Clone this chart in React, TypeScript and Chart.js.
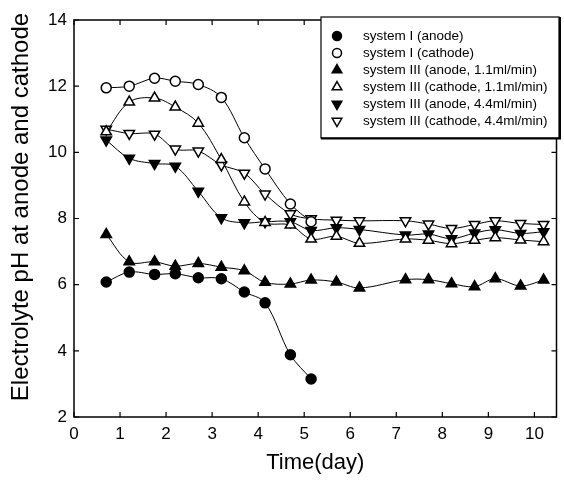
import React, { useEffect, useRef } from "react";
import { Chart, registerables } from "chart.js";

Chart.register(...registerables);

const days = [0.7, 1.2, 1.75, 2.2, 2.7, 3.2, 3.7, 4.15, 4.7, 5.15, 5.7, 6.2, 7.2, 7.7, 8.2, 8.7, 9.15, 9.7, 10.2];

const sysIAnode = [6.08, 6.38, 6.31, 6.33, 6.21, 6.18, 5.78, 5.45, 3.88, 3.15];
const sysICathode = [11.95, 12.0, 12.24, 12.15, 12.05, 11.66, 10.44, 9.5, 8.44, 7.9];
const sysIIIAnode11 = [7.52, 6.69, 6.69, 6.56, 6.64, 6.53, 6.42, 6.07, 6.02, 6.14, 6.08, 5.9, 6.15, 6.15, 6.03, 5.94, 6.18, 5.96, 6.14];
const sysIIICathode11 = [10.62, 11.52, 11.64, 11.37, 10.88, 9.78, 8.5, 7.88, 7.8, 7.38, 7.46, 7.25, 7.38, 7.34, 7.24, 7.34, 7.42, 7.35, 7.3];
const sysIIIAnode44 = [10.37, 9.82, 9.66, 9.58, 8.82, 8.02, 7.87, 7.9, 7.9, 7.64, 7.72, 7.67, 7.5, 7.53, 7.39, 7.56, 7.66, 7.55, 7.6];
const sysIIICathode44 = [10.7, 10.57, 10.55, 10.1, 10.04, 9.62, 9.37, 8.74, 8.14, 7.99, 7.95, 7.93, 7.93, 7.83, 7.7, 7.82, 7.93, 7.85, 7.82];

const seriesLabels = [
  "system I (anode)",
  "system I (cathode)",
  "system III (anode, 1.1ml/min)",
  "system III (cathode, 1.1ml/min)",
  "system III (anode, 4.4ml/min)",
  "system III (cathode, 4.4ml/min)",
];

const xTicks = [0, 1, 2, 3, 4, 5, 6, 7, 8, 9, 10];
const yTicks = [2, 4, 6, 8, 10, 12, 14];
const xTitle = "Time(day)";
const yTitle = "Electrolyte pH at anode and cathode";

const FONT = "'Liberation Sans', Arial, Helvetica, sans-serif";

type Marker = { style: string; fill: boolean; rot: number };
const markers: Marker[] = [
  { style: "circle", fill: true, rot: 0 },
  { style: "circle", fill: false, rot: 0 },
  { style: "triangle", fill: true, rot: 0 },
  { style: "triangle", fill: false, rot: 0 },
  { style: "triangle", fill: true, rot: 180 },
  { style: "triangle", fill: false, rot: 180 },
];

const seriesValues = [sysIAnode, sysICathode, sysIIIAnode11, sysIIICathode11, sysIIIAnode44, sysIIICathode44];

function drawMarker(ctx: CanvasRenderingContext2D, m: Marker, x: number, y: number, r: number) {
  ctx.beginPath();
  if (m.style === "circle") {
    ctx.arc(x, y, r, 0, Math.PI * 2);
  } else {
    let rad = (m.rot * Math.PI) / 180;
    ctx.moveTo(x + Math.sin(rad) * r, y - Math.cos(rad) * r);
    rad += (2 * Math.PI) / 3;
    ctx.lineTo(x + Math.sin(rad) * r, y - Math.cos(rad) * r);
    rad += (2 * Math.PI) / 3;
    ctx.lineTo(x + Math.sin(rad) * r, y - Math.cos(rad) * r);
    ctx.closePath();
  }
  ctx.fillStyle = m.fill ? "#000" : "#fff";
  ctx.fill();
  ctx.lineWidth = 1.5;
  ctx.strokeStyle = "#000";
  ctx.stroke();
}

const framePlugin = {
  id: "frameTicks",
  afterDatasetsDraw(chart: any) {
    const { ctx, chartArea } = chart;
    const xs = chart.scales.x;
    const ys = chart.scales.y;
    const { left, right, top, bottom } = chartArea;
    ctx.save();
    ctx.strokeStyle = "#000";
    ctx.lineWidth = 1.5;
    ctx.strokeRect(left, top, right - left, bottom - top);
    ctx.lineWidth = 1.2;
    const L = 5;
    ctx.beginPath();
    xTicks.forEach((v) => {
      const px = xs.getPixelForValue(v);
      ctx.moveTo(px, bottom);
      ctx.lineTo(px, bottom - L);
      ctx.moveTo(px, top);
      ctx.lineTo(px, top + L);
    });
    yTicks.forEach((v) => {
      const py = ys.getPixelForValue(v);
      ctx.moveTo(left, py);
      ctx.lineTo(left + L, py);
      ctx.moveTo(right, py);
      ctx.lineTo(right - L, py);
    });
    ctx.stroke();
    // y axis title
    ctx.save();
    ctx.translate(21, 207);
    ctx.rotate(-Math.PI / 2);
    ctx.font = `24px ${FONT}`;
    ctx.fillStyle = "#000";
    ctx.textAlign = "center";
    ctx.textBaseline = "middle";
    ctx.fillText(yTitle, 0, 0);
    ctx.restore();
    ctx.restore();
  },
  afterDraw(chart: any) {
    const { ctx } = chart;
    ctx.save();
    const bx = 321, by = 17, bw = 238, bh = 121;
    ctx.fillStyle = "#fff";
    ctx.fillRect(bx, by, bw, bh);
    ctx.strokeStyle = "#000";
    ctx.lineWidth = 1.2;
    ctx.strokeRect(bx, by, bw, bh);
    ctx.lineWidth = 2;
    ctx.beginPath();
    ctx.moveTo(bx, by + bh + 0.5);
    ctx.lineTo(bx + bw + 1, by + bh + 0.5);
    ctx.lineTo(bx + bw + 1, by);
    ctx.stroke();
    ctx.font = `13.5px ${FONT}`;
    ctx.textBaseline = "middle";
    ctx.textAlign = "left";
    chart.data.datasets.forEach((ds: any, i: number) => {
      const y = 36 + i * 17;
      drawMarker(ctx, markers[i], 337, y, markers[i].style === "circle" ? 4.5 : 5.5);
      ctx.fillStyle = "#000";
      ctx.fillText(ds.label, 363, y);
    });
    ctx.restore();
  },
};

export default function App() {
  const ref = useRef<HTMLCanvasElement | null>(null);
  useEffect(() => {
    if (!ref.current) return;
    const datasets = seriesValues.map((vals, i) => ({
      label: seriesLabels[i],
      data: vals.map((v, j) => ({ x: days[j], y: v })),
      borderColor: "#000",
      borderWidth: 1,
      tension: 0.35,
      pointStyle: markers[i].style,
      pointRotation: markers[i].rot,
      pointRadius: markers[i].style === "circle" ? 5 : 6,
      pointBackgroundColor: markers[i].fill ? "#000" : "#fff",
      pointBorderColor: "#000",
      pointBorderWidth: 1.5,
      fill: false,
    }));
    const chart = new Chart(ref.current, {
      type: "line",
      data: { datasets },
      options: {
        animation: false,
        responsive: false,
        maintainAspectRatio: false,
        layout: { padding: { top: 20, right: 2, left: 0, bottom: 0 } },
        plugins: { legend: { display: false }, tooltip: { enabled: false } },
        scales: {
          x: {
            type: "linear",
            min: 0,
            max: 10.48,
            afterBuildTicks: (s: any) => {
              s.ticks = xTicks.map((v) => ({ value: v }));
            },
            afterFit: (s: any) => {
              s.height = 67;
            },
            grid: { display: false, drawTicks: false },
            border: { display: false },
            ticks: { color: "#000", font: { size: 17, family: FONT }, padding: 7, maxRotation: 0, autoSkip: false },
            title: {
              display: true,
              text: xTitle,
              color: "#000",
              font: { size: 22, family: FONT },
              padding: { top: 0, bottom: 8 },
            },
          },
          y: {
            type: "linear",
            min: 2,
            max: 14,
            afterBuildTicks: (s: any) => {
              s.ticks = yTicks.map((v) => ({ value: v }));
            },
            afterFit: (s: any) => {
              s.width = 74;
            },
            grid: { display: false, drawTicks: false },
            border: { display: false },
            ticks: { color: "#000", font: { size: 17, family: FONT }, padding: 7, autoSkip: false },
            title: { display: false },
          },
        },
      },
      plugins: [framePlugin],
    });
    return () => chart.destroy();
  }, []);
  return (
    <div style={{ position: "absolute", left: 0, top: 0, width: 564, height: 484, background: "#fff" }}>
      <canvas ref={ref} width={564} height={484} style={{ display: "block" }} />
    </div>
  );
}
